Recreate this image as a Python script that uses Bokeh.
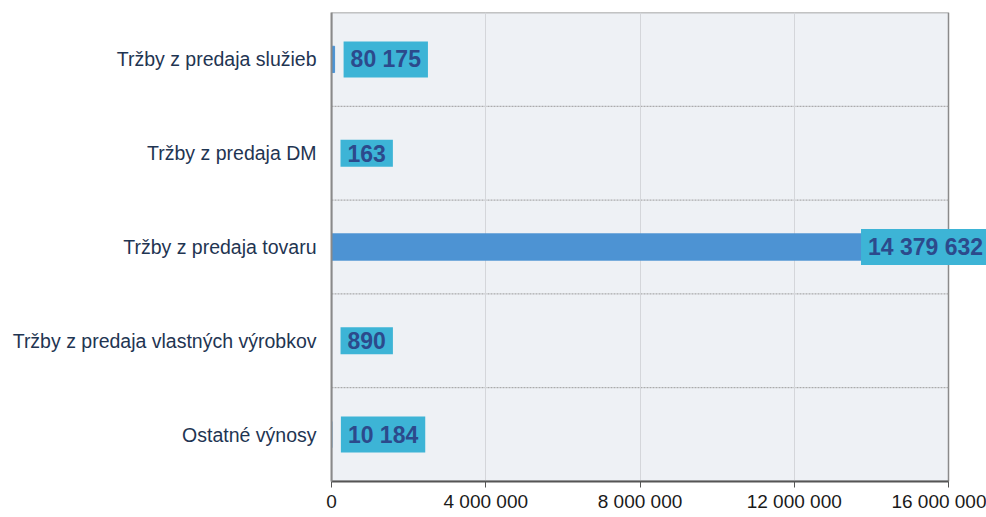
import numpy as np
from bokeh.plotting import figure
from bokeh.models import ColumnDataSource, FixedTicker, Range1d, Label
from bokeh.embed import file_html
from bokeh.resources import INLINE

categories = ["Tržby z predaja služieb", "Tržby z predaja DM", "Tržby z predaja tovaru",
              "Tržby z predaja vlastných výrobkov", "Ostatné výnosy"]
values = [80175, 163, 14379632, 890, 10184]
value_labels = ["80 175", "163", "14 379 632", "890", "10 184"]
x_ticks = [0, 4000000, 8000000, 12000000, 16000000]
x_tick_labels = ["0", "4 000 000", "8 000 000", "12 000 000", "16 000 000"]

n = len(categories)
ypos = [n - i - 0.5 for i in range(n)]
x_max = x_ticks[-1]
row_bounds = list(range(1, n))

src = ColumnDataSource(dict(y=ypos, v=values, lab=value_labels, cat=categories))

# frame extends past the axis end so the large value label can overflow as in the reference
p = figure(width=986, height=514, output_backend="svg", toolbar_location=None,
           x_range=Range1d(0, x_max * 655 / 617), y_range=Range1d(0, n),
           min_border_left=331, min_border_right=0, min_border_top=12, min_border_bottom=10)

p.background_fill_color = "white"
p.border_fill_color = "white"
p.outline_line_color = None

# plot area (light background + gray border) ending at the last tick
p.quad(left=0, right=x_max, bottom=0, top=n, fill_color="#eef1f5",
       line_color="#8a8a8a", line_width=1.5, level="image")

# row separators (dotted), limited to the plot area
p.segment(x0=[0] * len(row_bounds), x1=[x_max] * len(row_bounds), y0=row_bounds, y1=row_bounds,
          line_color="#9a9a9a", line_dash="2 1", line_width=1, level="underlay")

p.hbar(y="y", right="v", left=0, height=0.28, source=src, color="#4d93d3")

for yv, v, lab in zip(ypos, values, value_labels):
    p.add_layout(Label(x=v, y=yv, text=lab, x_offset=(-25 if v > 1000000 else 9),
                       text_font="Liberation Sans", text_font_style="bold",
                       text_font_size="23px", text_color="#2c4a8c", text_baseline="middle",
                       text_align="left", background_fill_color="#3db4d6",
                       padding=[7, 7, 5, 5], level="overlay"))

# axes
p.xaxis.ticker = FixedTicker(ticks=x_ticks)
p.xaxis.bounds = (0, x_max)
p.xaxis.major_label_overrides = {t: l for t, l in zip(x_ticks, x_tick_labels)}
p.xaxis.major_label_text_font = "Liberation Sans"
p.xaxis.major_label_text_font_size = "19px"
p.xaxis.major_label_text_color = "#1a1a1a"
p.xaxis.axis_line_color = "#555555"
p.xaxis.axis_line_width = 2
p.xaxis.major_tick_line_color = "#555555"
p.xaxis.major_tick_in = 0
p.xaxis.major_tick_out = 6
p.xaxis.minor_tick_line_color = None
p.xaxis.major_label_standoff = 3

p.yaxis.ticker = FixedTicker(ticks=ypos)
p.yaxis.major_label_overrides = {y: c for y, c in zip(ypos, categories)}
p.yaxis.major_label_text_font = "Liberation Sans"
p.yaxis.major_label_text_font_size = "19.5px"
p.yaxis.major_label_text_color = "#1f3552"
p.yaxis.axis_line_color = "#8a8a8a"
p.yaxis.axis_line_width = 2
p.yaxis.major_tick_line_color = None
p.yaxis.minor_tick_line_color = None
p.yaxis.major_label_standoff = 9

p.xgrid.ticker = FixedTicker(ticks=x_ticks[1:-1])
p.xgrid.grid_line_color = "#d4d6da"
p.ygrid.visible = False

open("out.html", "w").write(file_html(p, INLINE))
